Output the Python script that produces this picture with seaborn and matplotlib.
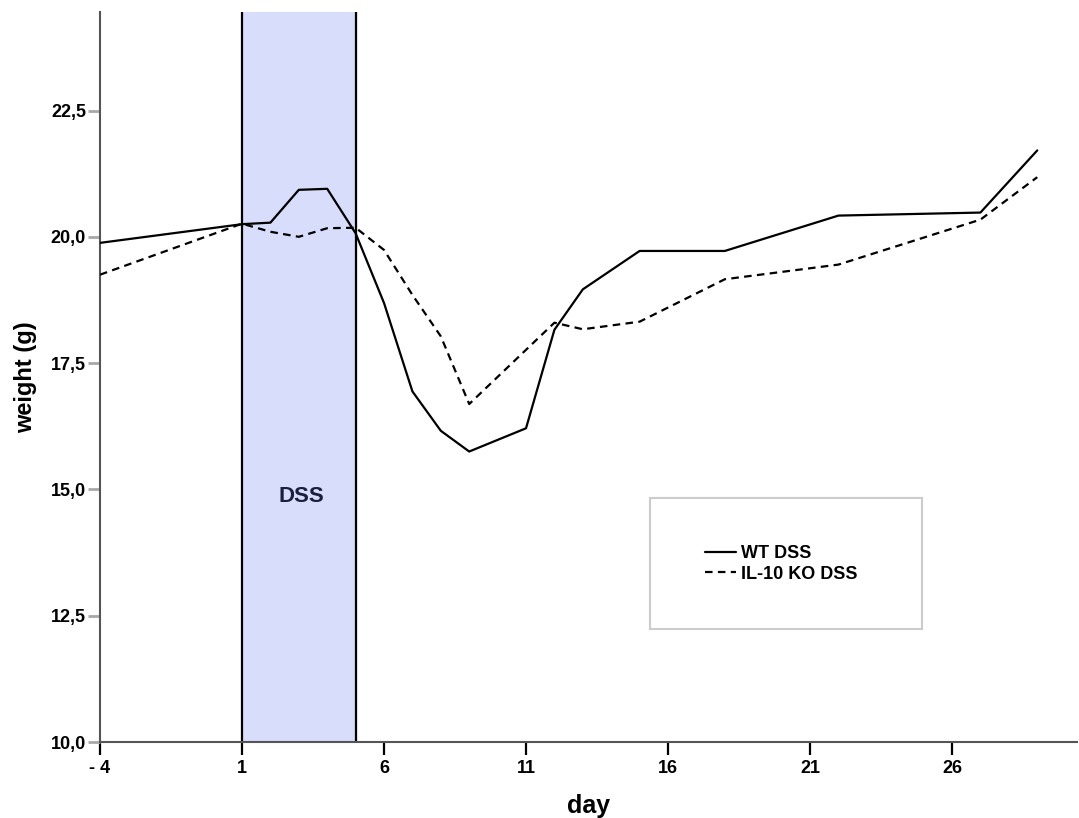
import matplotlib
matplotlib.use("Agg")
import matplotlib.pyplot as plt
from matplotlib.patches import Rectangle
import seaborn as sns
import pandas as pd

# values
wt_days = [-4, 1, 2, 3, 4, 5, 6, 7, 8, 9, 11, 12, 13, 15, 18, 22, 27, 29]
wt_weight = [19.88, 20.25, 20.28, 20.93, 20.95, 20.07, 18.69, 16.94, 16.16, 15.75,
             16.21, 18.16, 18.96, 19.72, 19.72, 20.42, 20.48, 21.71]

ko_days = [-4, 1, 2, 3, 4, 5, 6, 7, 8, 9, 12, 13, 15, 18, 22, 27, 29]
ko_weight = [19.25, 20.26, 20.10, 20.0, 20.17, 20.18, 19.74, 18.85, 18.03, 16.69,
             18.30, 18.17, 18.32, 19.16, 19.45, 20.34, 21.18]

groups = ["WT DSS", "IL-10 KO DSS"]
x_ticks = [-4, 1, 6, 11, 16, 21, 26]
x_labels = ["- 4", "1", "6", "11", "16", "21", "26"]
y_ticks = [10.0, 12.5, 15.0, 17.5, 20.0, 22.5]
y_labels = ["10,0", "12,5", "15,0", "17,5", "20,0", "22,5"]
dss_start, dss_end = 1, 5

df = pd.concat([
    pd.DataFrame({"day": wt_days, "weight": wt_weight, "group": groups[0]}),
    pd.DataFrame({"day": ko_days, "weight": ko_weight, "group": groups[1]}),
])

sns.set_style("white")
plt.rcParams['font.family'] = ['Liberation Sans', 'DejaVu Sans']
plt.rcParams['text.color'] = 'black'
plt.rcParams['axes.labelcolor'] = 'black'
plt.rcParams['xtick.labelcolor'] = 'black'
plt.rcParams['ytick.labelcolor'] = 'black'

fig = plt.figure(figsize=(10.79, 8.18), dpi=100)
ax = fig.add_axes([100 / 1079, 76 / 818, 977 / 1079, 730 / 818])

# DSS treatment window
ax.axvspan(dss_start, dss_end, color="#d7ddfb", zorder=0)
ax.axvline(dss_start, color="black", lw=1.6, zorder=1)
ax.axvline(dss_end, color="black", lw=1.6, zorder=1)
ax.text((dss_start + dss_end) / 2 + 0.1, 14.85, "DSS", ha="center", va="center",
        fontsize=16, fontweight="bold", color="#1a1f3d")

sns.lineplot(data=df, x="day", y="weight", style="group", style_order=groups,
             dashes={"WT DSS": "", "IL-10 KO DSS": (3.4, 2.4)},
             color="black", lw=1.6, estimator=None, sort=False, ax=ax, zorder=3)

ax.set_xlim(-4, 30.4)
ax.set_ylim(10, 24.45)
ax.set_xticks(x_ticks)
ax.set_xticklabels(x_labels, fontweight="bold", fontsize=13)
ax.set_yticks(y_ticks)
ax.set_yticklabels(y_labels, fontweight="bold", fontsize=13)
ax.tick_params(axis="x", length=9, width=1.6, color="black", pad=4, direction="out", bottom=True)
ax.tick_params(axis="y", length=9, width=2, color="#a8a8a8", pad=1, direction="out", left=True)

ax.set_xlabel("day", fontsize=18, fontweight="bold", labelpad=12)
ax.set_ylabel("weight (g)", fontsize=17, fontweight="bold", labelpad=10)

sns.despine(ax=ax)
for side in ["left", "bottom"]:
    ax.spines[side].set_color("#555555")
    ax.spines[side].set_linewidth(1.5)

# legend box
fig.patches.append(Rectangle((650 / 1079, 1 - 629 / 818), 272 / 1079, 131 / 818,
                             transform=fig.transFigure, fill=False,
                             edgecolor="#cccccc", lw=1.5))
handles, labels = ax.get_legend_handles_labels()
ax.legend(handles, labels, loc="center left", bbox_to_anchor=(705 / 1079, 1 - 564 / 818),
          bbox_transform=fig.transFigure, frameon=False, borderpad=0, borderaxespad=0,
          handlelength=1.7, handletextpad=0.3, labelspacing=0.2,
          prop={"weight": "bold", "size": 13})

fig.savefig("out.png", dpi=100)
